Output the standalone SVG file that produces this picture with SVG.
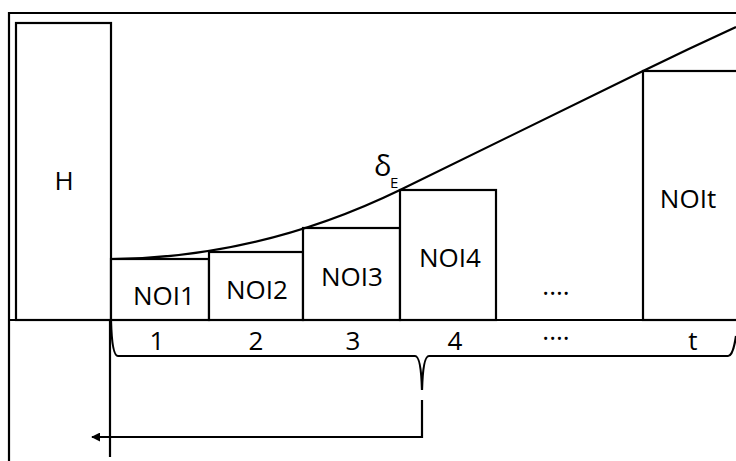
<svg xmlns="http://www.w3.org/2000/svg" width="736" height="461" viewBox="0 0 736 461">
<style>
.ln{fill:none;stroke:#000;stroke-width:2.2}
.bx{fill:#fff;stroke:#000;stroke-width:2.2}
.t{font-family:"Open Sans","Liberation Sans",sans-serif;font-size:26px;fill:#000;text-anchor:middle}
</style>
<defs>
<marker id="ah" viewBox="0 0 10 10" refX="9" refY="5" markerWidth="9" markerHeight="9" markerUnits="userSpaceOnUse" orient="auto">
<path d="M0,0 L10,5 L0,10 z" fill="#000"/>
</marker>
</defs>
<rect width="736" height="461" fill="#fff"/>
<g id="frame"><path class="ln" d="M9,461 V13 H736" stroke-width="2.5"/></g>
<g id="H"><rect class="bx" x="16" y="23" width="95" height="297" stroke-width="2.5"/><text class="t" x="64" y="190">H</text></g>
<g id="NOI1"><rect class="bx" x="111" y="259" width="98" height="61"/><text class="t" x="164" y="305">NOI1</text></g>
<g id="NOI2"><rect class="bx" x="209" y="252" width="94" height="68"/><text class="t" x="257" y="299">NOI2</text></g>
<g id="NOI3"><rect class="bx" x="303" y="228" width="97" height="92"/><text class="t" x="352" y="286">NOI3</text></g>
<g id="NOI4"><rect class="bx" x="400" y="190" width="96" height="130"/><text class="t" x="450" y="267">NOI4</text></g>
<g id="dots1"><text class="t" x="556" y="295">....</text></g>
<g id="NOIt"><rect class="bx" x="643" y="71" width="100" height="249"/><text class="t" x="688" y="208">NOIt</text></g>
<g id="axis">
<path class="ln" d="M9,320 H736"/>
<text class="t" x="157" y="350">1</text>
<text class="t" x="256" y="350">2</text>
<text class="t" x="353" y="350">3</text>
<text class="t" x="455" y="350">4</text>
<text class="t" x="556" y="340">....</text>
<text class="t" x="693" y="350">t</text>
</g>
<g id="connectors">
<path class="ln" d="M111,259 Q260,258 400,190 L643,71 Q690,48 736,27"/>
<path class="ln" d="M110,320 V457"/>
<path class="ln" d="M111,321 Q112,356 118,356 H415 Q421,356 422,390 Q423,356 429,356 H728 Q733,356 736,336"/>
<path class="ln" d="M422,400 V437 H92" marker-end="url(#ah)"/>
</g>
<g id="delta"><text font-family="Open Sans, Liberation Sans, sans-serif" font-size="29" x="374" y="176">δ</text><text font-family="Open Sans, Liberation Sans, sans-serif" font-size="15" x="390" y="188">E</text></g>
</svg>
